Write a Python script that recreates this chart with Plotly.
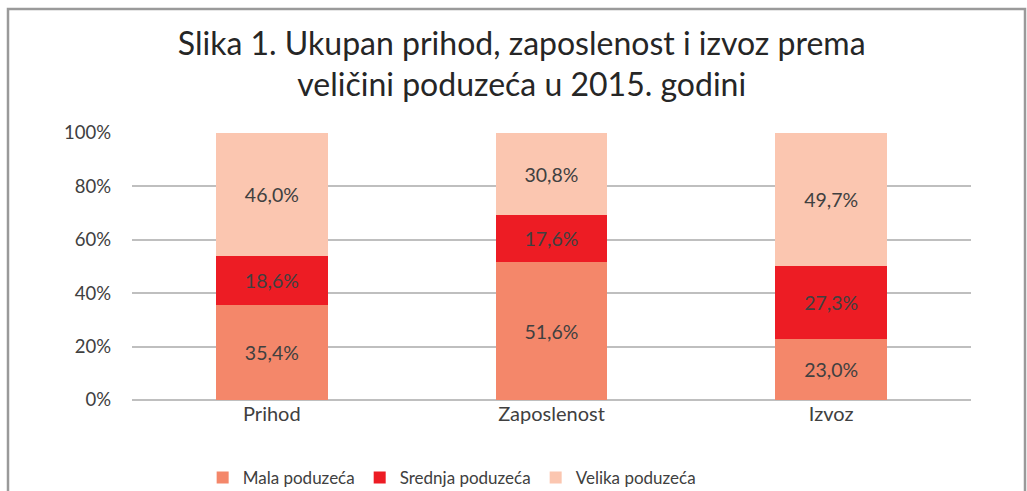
import plotly.graph_objects as go

categories = ["Prihod", "Zaposlenost", "Izvoz"]
mala = [35.4, 51.6, 23.0]
srednja = [18.6, 17.6, 27.3]
velika = [46.0, 30.8, 49.7]
series_names = ["Mala poduzeća", "Srednja poduzeća", "Velika poduzeća"]
colors = ["#F4876A", "#ED1C24", "#FBC6B0"]
y_ticks = [0, 20, 40, 60, 80, 100]
y_tick_labels = ["0%", "20%", "40%", "60%", "80%", "100%"]

FONT = "Lato"
fig = go.Figure()
for name, vals, col in zip(series_names, [mala, srednja, velika], colors):
    fig.add_trace(go.Bar(
        x=categories, y=vals, name=name, marker=dict(color=col, line=dict(width=0)),
        texttemplate="%{y:.1f}%", textposition="inside", insidetextanchor="middle",
        textfont=dict(family=FONT, size=19.5, color="#404040"),
        constraintext="none", hoverinfo="skip",
    ))

fig.update_layout(
    barmode="stack", bargap=0.6, separators=",.",
    width=1027, height=491, paper_bgcolor="white", plot_bgcolor="white",
    margin=dict(l=132, r=56, t=133, b=91),
    title=dict(text="Slika 1. Ukupan prihod, zaposlenost i izvoz prema<br>veličini poduzeća u 2015. godini",
               x=0.508, xanchor="center", yref="container", y=0.889, yanchor="top",
               font=dict(family=FONT, size=32, color="#262626")),
    font=dict(family=FONT, size=16, color="#404040"),
    legend=dict(orientation="h", x=0.381, xanchor="center", yref="container", y=0.0265, yanchor="middle",
                font=dict(family=FONT, size=17, color="#404040"), traceorder="normal",
                itemwidth=30, bgcolor="rgba(0,0,0,0)"),
    showlegend=True,
    xaxis=dict(showgrid=False, showline=False, ticks="",
               tickfont=dict(family=FONT, size=20, color="#404040")),
    yaxis=dict(range=[0, 100], tickvals=y_ticks, ticktext=y_tick_labels, showgrid=True,
               gridcolor="#BFBFBF", gridwidth=1.5, zeroline=True, zerolinecolor="#BFBFBF", zerolinewidth=1.5,
               tickfont=dict(family=FONT, size=18.5, color="#404040"), ticklabelstandoff=20),
)

# outer chart frame
fig.add_shape(type="rect", xref="paper", yref="paper",
              x0=(8 - 132) / 839, x1=(1025 - 132) / 839,
              y0=(400 - 520) / 267, y1=(400 - 9) / 267,
              line=dict(color="#9A9A9A", width=2.5), fillcolor="rgba(0,0,0,0)", layer="below")

fig.write_html("out.html", config={"displayModeBar": False},
               post_script="document.body.style.margin='0';")
